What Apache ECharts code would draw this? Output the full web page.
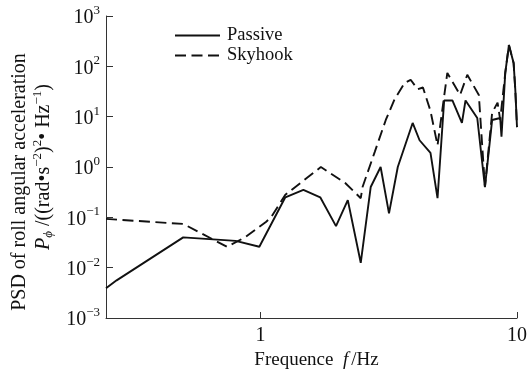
<!DOCTYPE html>
<html>
<head>
<meta charset="utf-8">
<script src="https://cdn.jsdelivr.net/npm/echarts@6/dist/echarts.min.js"></script>
<style>
  html, body { margin: 0; padding: 0; background: #fff; }
  #chart { width: 530px; height: 379px; }
</style>
</head>
<body>
<div id="chart"></div>
<script>
// Roll angular acceleration PSD, passive vs. skyhook suspension
const seriesNames = ['Passive', 'Skyhook'];

const passiveFreq = [0.25, 0.275, 0.5, 0.8, 0.99, 1.25, 1.47, 1.71, 1.97, 2.19, 2.46, 2.69, 2.94, 3.17, 3.43, 3.92, 4.17, 4.6, 4.9, 5.2, 5.6, 6.1, 6.3, 7.0, 7.5, 8.0, 8.6, 8.7, 9.0, 9.3, 9.7, 9.85, 10];
const passivePsd  = [0.0039, 0.0056, 0.04, 0.034, 0.026, 0.25, 0.35, 0.25, 0.067, 0.22, 0.0125, 0.4, 1.0, 0.12, 1.0, 7.5, 3.4, 1.9, 0.24, 21, 21, 7.5, 21, 9.4, 0.4, 8.6, 9.4, 4, 74, 265, 117, 34, 6.2];

const skyhookFreq = [0.25, 0.5, 0.575, 0.74, 0.87, 1.05, 1.1, 1.25, 1.72, 2.14, 2.46, 2.5, 2.79, 3.08, 3.33, 3.65, 3.85, 4.1, 4.3, 4.6, 4.9, 5.35, 6.0, 6.4, 7.1, 7.5, 8.0, 8.4, 8.6, 9.0, 9.3, 9.7, 9.85, 10];
const skyhookPsd  = [0.093, 0.074, 0.051, 0.026, 0.04, 0.081, 0.1, 0.28, 1.0, 0.48, 0.24, 0.4, 2.0, 8.6, 22, 47, 54, 35, 38, 13, 2.7, 74, 27, 68, 27, 0.4, 12, 19, 8.6, 74, 265, 117, 34, 6.2];

const xTicks = [1, 10];
const yTicks = [1e-3, 1e-2, 1e-1, 1, 10, 100, 1000];

const serif = 'Liberation Serif';
const ink = '#111';

function pairs(xs, ys) { return xs.map((x, i) => [x, ys[i]]); }

function powLabel(v) {
  const e = Math.round(Math.log10(v));
  return '{b|10}{s|' + (e < 0 ? '\u2212' + (-e) : e) + '}';
}

const chart = echarts.init(document.getElementById('chart'), null, { renderer: 'canvas' });

chart.setOption({
  backgroundColor: '#fff',
  animation: false,
  grid: { left: 106, right: 10, top: 16, bottom: 61, containLabel: false },
  legend: {
    orient: 'vertical',
    left: 169,
    top: 21,
    itemWidth: 45,
    itemHeight: 14,
    itemGap: 1,
    data: seriesNames,
    itemStyle: { opacity: 0 },
    textStyle: { fontFamily: serif, fontSize: 18.5, color: ink, padding: [0, 0, 0, 2] }
  },
  xAxis: {
    type: 'log',
    logBase: 10,
    min: 0.25,
    max: 10,
    name: '{a|Frequence  }{i|f}{a|/Hz}',
    nameLocation: 'middle',
    nameGap: 28,
    nameTextStyle: {
      padding: [0, 0, 0, 10],
      rich: {
        a: { fontFamily: serif, fontSize: 19, color: ink },
        i: { fontFamily: serif, fontSize: 19, fontStyle: 'italic', color: ink, padding: [0, 3, 0, 0] }
      }
    },
    axisLine: { show: true, onZero: false, lineStyle: { color: '#333', width: 1 } },
    axisTick: { show: true, inside: true, length: 6, customValues: xTicks, lineStyle: { color: '#333' } },
    axisLabel: {
      customValues: xTicks,
      margin: 8,
      fontFamily: serif, fontSize: 20, color: ink,
      formatter: v => String(Math.round(v))
    },
    splitLine: { show: false },
    minorTick: { show: false }
  },
  yAxis: {
    type: 'log',
    logBase: 10,
    min: 1e-3,
    max: 1e3,
    name: '{l1|PSD of roll angular acceleration}\n{i|P}{sub|\u03d5}{a| /((rad\u2022s}{sup|\u22122}{a|)}{sup|2}{a|\u2022 Hz}{sup|\u22121}{a|)}',
    nameLocation: 'middle',
    nameRotate: 90,
    nameGap: 48,
    nameTextStyle: {
      align: 'center',
      rich: {
        l1: { fontFamily: serif, fontSize: 20, color: ink, lineHeight: 24, padding: [0, 30, 0, 0] },
        a: { fontFamily: serif, fontSize: 20, color: ink, lineHeight: 24 },
        i: { fontFamily: serif, fontSize: 20, fontStyle: 'italic', color: ink, lineHeight: 24 },
        sub: { fontFamily: serif, fontSize: 13, fontStyle: 'italic', color: ink, verticalAlign: 'bottom', lineHeight: 24 },
        sup: { fontFamily: serif, fontSize: 13, color: ink, verticalAlign: 'top', lineHeight: 24 }
      }
    },
    axisLine: { show: true, onZero: false, lineStyle: { color: '#333', width: 1 } },
    axisTick: { show: true, inside: true, length: 7, customValues: yTicks, lineStyle: { color: '#333' } },
    axisLabel: {
      customValues: yTicks,
      margin: 6,
      formatter: powLabel,
      rich: {
        b: { fontFamily: serif, fontSize: 20, color: ink, lineHeight: 24, verticalAlign: 'bottom' },
        s: { fontFamily: serif, fontSize: 13, color: ink, lineHeight: 24, verticalAlign: 'top' }
      }
    },
    splitLine: { show: false },
    minorTick: { show: false }
  },
  series: [
    {
      name: seriesNames[0],
      type: 'line',
      data: pairs(passiveFreq, passivePsd),
      symbol: 'none',
      lineStyle: { color: ink, width: 1.9, type: 'solid' },
      itemStyle: { color: ink },
      z: 3
    },
    {
      name: seriesNames[1],
      type: 'line',
      data: pairs(skyhookFreq, skyhookPsd),
      symbol: 'none',
      lineStyle: { color: ink, width: 1.9, type: [11, 5.5] },
      itemStyle: { color: ink },
      z: 2
    }
  ]
});
</script>
</body>
</html>
